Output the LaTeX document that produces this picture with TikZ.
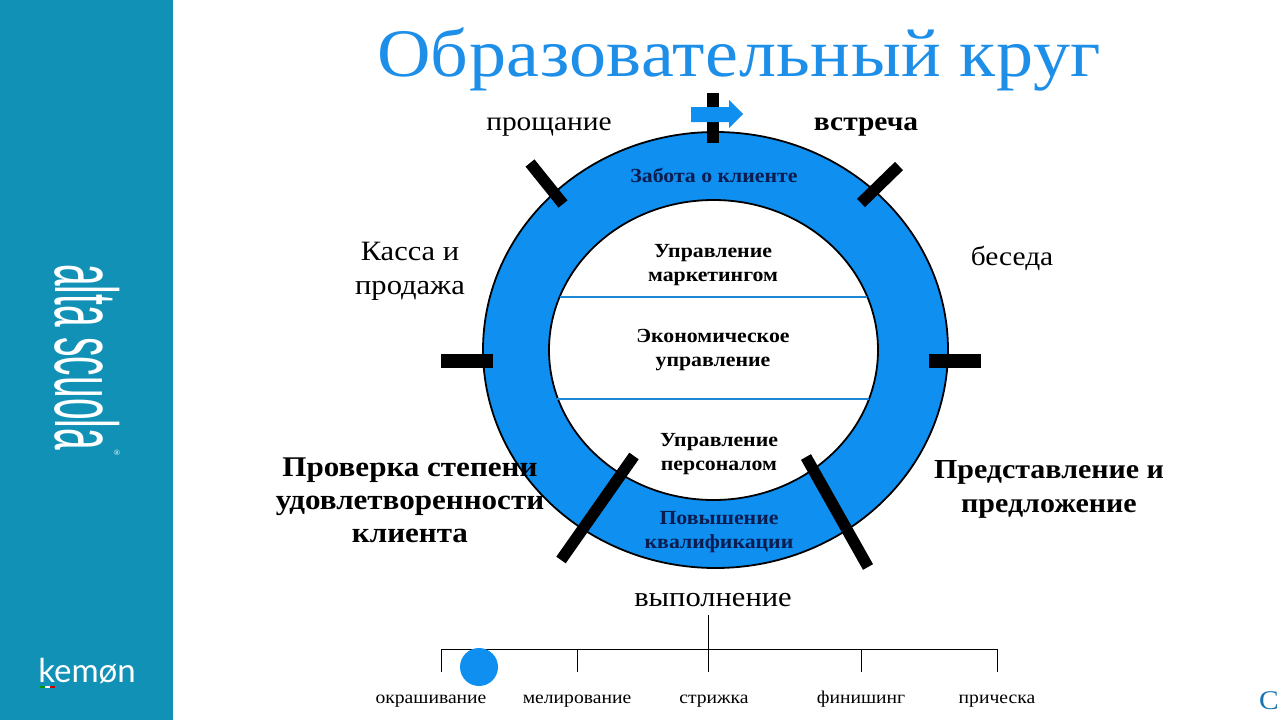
\documentclass[tikz,border=0pt]{standalone}
\usepackage{fontspec}
\setmainfont[FakeStretch=1.09]{Liberation Serif}
\newfontfamily\logofont{Liberation Sans}
\newfontfamily\kemonfont{Lato}
\definecolor{side}{HTML}{1291B6}
\definecolor{ringblue}{HTML}{0F8FF0}
\definecolor{linkblue}{HTML}{1F86D6}
\definecolor{titleblue}{HTML}{1E8FE8}
\definecolor{navytext}{HTML}{0A1C50}
\definecolor{cutblue}{HTML}{1C74B4}
\tikzset{
 tick/.style={line width=11.5pt,black},
 tickh/.style={line width=14pt,black},
 lab/.style 2 args={align=center,inner sep=0pt,font=\fontsize{#1}{#2}\selectfont},
 blab/.style 2 args={align=center,inner sep=0pt,font=\fontsize{#1}{#2}\selectfont\bfseries},
 treelab/.style={anchor=base,inner sep=0pt,font=\fontsize{18}{22}\selectfont},
 treeline/.style={line width=0.9pt,black},
 divider/.style={line width=2.4pt,linkblue},
 rim/.style={line width=1.8pt,draw=black},
}
\begin{document}
\begin{tikzpicture}[x=1pt,y=-1pt]
\useasboundingbox (0,0) rectangle (1280,720);
\fill[white] (0,0) rectangle (1280,720);
\fill[side] (0,0) rectangle (173,720);
% logo vertical
\node[rotate=-90,white,inner sep=0pt] (alta) at (87,357) {\logofont\scalebox{1.62}[3.7]{\fontsize{24}{24}\selectfont alta scuola}};
\node[white,inner sep=0pt] (reg) at (117,453) {\fontsize{8}{8}\selectfont ®};
\node[white,inner sep=0pt] (kemon) at (87,671) {\kemonfont\fontsize{33}{33}\selectfont kemøn};
\fill[green!60!black] (40,685.5) rectangle (45,688);
\fill[white] (45,685.5) rectangle (50,688);
\fill[red!80!black] (50,685.5) rectangle (55,688);
% title
\node[lab={68}{80},titleblue] (title) at (739,59) {\addfontfeature{LetterSpace=0.7}Образовательный круг};
% ring
\path[fill=ringblue,rim] (715.5,350) ellipse [x radius=232.5,y radius=218];
\path[fill=white,rim] (713.5,350) ellipse [x radius=164.5,y radius=150];
\draw[divider] (560,297) -- (867,297);
\draw[divider] (557,399) -- (869,399);
% ticks
\draw[tick] (713,93) -- (713,143);
\draw[tick] (530,163) -- (563,204);
\draw[tick] (899,166) -- (861,203);
\draw[tickh] (441,361) -- (493,361);
\draw[tickh] (929,361) -- (981,361);
\draw[tick] (634,456) -- (561,560);
\draw[tick] (806,457) -- (868,567);
\fill[ringblue] (691,107) -- (729,107) -- (729,100) -- (743,114) -- (729,128) -- (729,122) -- (691,122) -- cycle;
% ring labels
\node[blab={20}{24},navytext] (care) at (714,175) {Забота о клиенте};
\node[blab={20}{24}] (mkt) at (713,265) {Управление\\маркетингом};
\node[blab={20}{24}] (eco) at (713,350) {Экономическое\\управление};
\node[blab={20}{24}] (staff) at (719,454) {Управление\\персоналом};
\node[blab={20}{24},navytext] (qual) at (719,532) {Повышение\\квалификации};
% outer labels
\node[lab={27}{33}] (bye) at (549,127) {прощание};
\node[blab={27}{33}] (meet) at (866,127) {встреча};
\node[lab={28}{34}] (cash) at (410,271.5) {Касса и\\продажа};
\node[lab={27}{33}] (talk) at (1012,258) {беседа};
\node[blab={28.5}{33}] (check) at (410,500) {Проверка степени\\удовлетворенности\\клиента};
\node[blab={27.5}{34}] (offer) at (1049,489) {Представление и\\предложение};
\node[lab={28}{33}] (exec) at (713,600) {выполнение};
% tree
\node[treelab] (t1) at (431,703) {окрашивание};
\node[treelab] (t2) at (577,703) {мелирование};
\node[treelab] (t3) at (714,703) {стрижка};
\node[treelab] (t4) at (861,703) {финишинг};
\node[treelab] (t5) at (997,703) {прическа};
\coordinate (stem) at (708,615);
\coordinate (hub) at (708,649);
\coordinate (d1) at (441,672); \coordinate (d2) at (577,672); \coordinate (d3) at (708,672); \coordinate (d4) at (861,672); \coordinate (d5) at (997,672);
\draw[treeline] (stem) -- (hub) (d1) |- (hub) -- (d3) (hub) -| (d5) (d2) -- (d2 |- hub) (d4) -- (d4 |- hub);
\fill[ringblue] (479,667) circle (19);
\node[anchor=east,inner sep=0pt,cutblue] (cut) at (1279,701) {\fontsize{27}{27}\selectfont C};
\end{tikzpicture}
\end{document}
